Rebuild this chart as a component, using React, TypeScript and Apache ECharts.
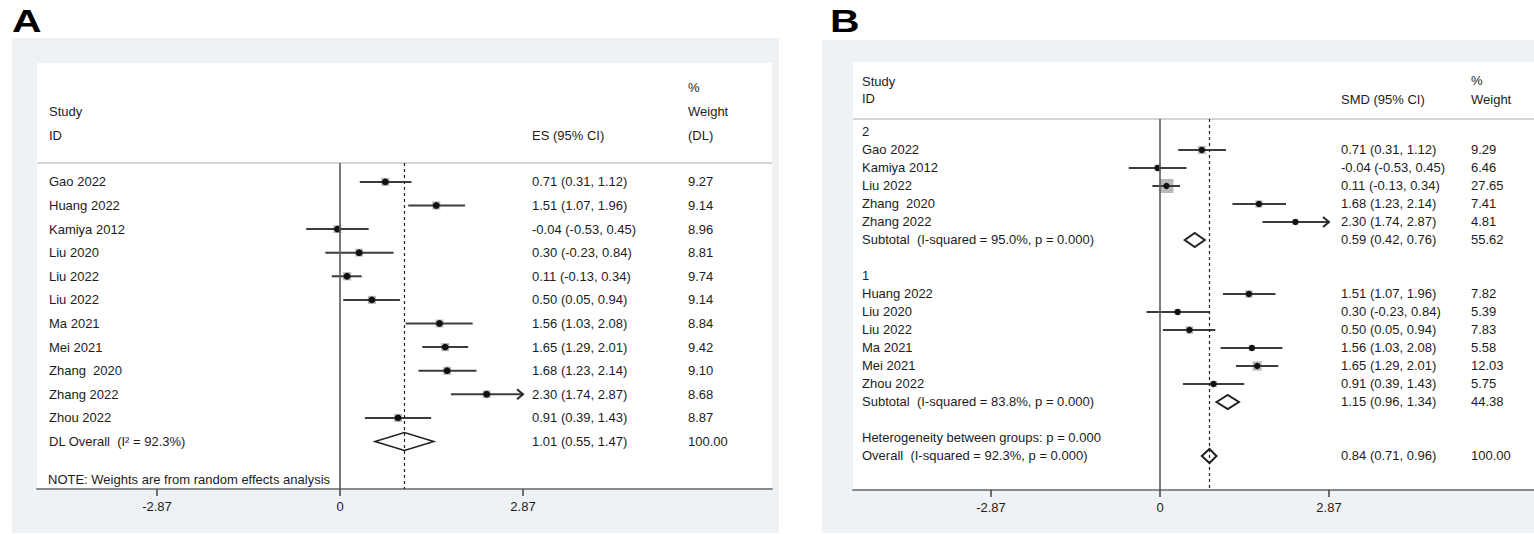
import React, { useEffect, useRef } from "react";
import * as echarts from "echarts";

// ---------- Panel A: pooled random-effects (DL) estimates ----------
const studiesA = [
  "Gao 2022", "Huang 2022", "Kamiya 2012", "Liu 2020", "Liu 2022", "Liu 2022",
  "Ma 2021", "Mei 2021", "Zhang  2020", "Zhang 2022", "Zhou 2022",
];
const esA = [0.71, 1.51, -0.04, 0.3, 0.11, 0.5, 1.56, 1.65, 1.68, 2.3, 0.91];
const loA = [0.31, 1.07, -0.53, -0.23, -0.13, 0.05, 1.03, 1.29, 1.23, 1.74, 0.39];
const hiA = [1.12, 1.96, 0.45, 0.84, 0.34, 0.94, 2.08, 2.01, 2.14, 2.87, 1.43];
const weightA = [9.27, 9.14, 8.96, 8.81, 9.74, 9.14, 8.84, 9.42, 9.1, 8.68, 8.87];
const overallLabelA = "DL Overall  (I\u00B2 = 92.3%)";
const overallA = [1.01, 0.55, 1.47];
const overallWeightA = 100.0;
const noteA = "NOTE: Weights are from random effects analysis";

// ---------- Panel B: subgroup analysis ----------
const group2Label = "2";
const group2Studies = ["Gao 2022", "Kamiya 2012", "Liu 2022", "Zhang  2020", "Zhang 2022"];
const group2Es = [0.71, -0.04, 0.11, 1.68, 2.3];
const group2Lo = [0.31, -0.53, -0.13, 1.23, 1.74];
const group2Hi = [1.12, 0.45, 0.34, 2.14, 2.87];
const group2Weight = [9.29, 6.46, 27.65, 7.41, 4.81];
const subtotal2Label = "Subtotal  (I-squared = 95.0%, p = 0.000)";
const subtotal2 = [0.59, 0.42, 0.76];
const subtotal2Weight = 55.62;

const group1Label = "1";
const group1Studies = ["Huang 2022", "Liu 2020", "Liu 2022", "Ma 2021", "Mei 2021", "Zhou 2022"];
const group1Es = [1.51, 0.3, 0.5, 1.56, 1.65, 0.91];
const group1Lo = [1.07, -0.23, 0.05, 1.03, 1.29, 0.39];
const group1Hi = [1.96, 0.84, 0.94, 2.08, 2.01, 1.43];
const group1Weight = [7.82, 5.39, 7.83, 5.58, 12.03, 5.75];
const subtotal1Label = "Subtotal  (I-squared = 83.8%, p = 0.000)";
const subtotal1 = [1.15, 0.96, 1.34];
const subtotal1Weight = 44.38;

const heterogeneityLabel = "Heterogeneity between groups: p = 0.000";
const overallLabelB = "Overall  (I-squared = 92.3%, p = 0.000)";
const overallB = [0.84, 0.71, 0.96];
const overallWeightB = 100.0;

// Shared axis ticks
const tickValues = [-2.87, 0, 2.87];
const tickLabels = ["-2.87", "0", "2.87"];
const ciLimit = 2.87;

const FONT = '"Liberation Sans", Arial, Helvetica, sans-serif';
const TEXT = "#1c1c1c";
const PANEL_BG = "#eef2f5";

type Row = {
  pos: number;
  label: string;
  kind: "study" | "diamond" | "text";
  es?: number;
  lo?: number;
  hi?: number;
  weight?: number;
};

function studyRows(start: number, names: string[], es: number[], lo: number[], hi: number[], w: number[]): Row[] {
  return names.map((n, i) => ({ pos: start + i, label: n, kind: "study", es: es[i], lo: lo[i], hi: hi[i], weight: w[i] }));
}

const rowsA: Row[] = [
  ...studyRows(1, studiesA, esA, loA, hiA, weightA),
  { pos: 12, label: overallLabelA, kind: "diamond", es: overallA[0], lo: overallA[1], hi: overallA[2], weight: overallWeightA },
];

const rowsB: Row[] = [
  { pos: 0, label: group2Label, kind: "text" },
  ...studyRows(1, group2Studies, group2Es, group2Lo, group2Hi, group2Weight),
  { pos: 6, label: subtotal2Label, kind: "diamond", es: subtotal2[0], lo: subtotal2[1], hi: subtotal2[2], weight: subtotal2Weight },
  { pos: 8, label: group1Label, kind: "text" },
  ...studyRows(9, group1Studies, group1Es, group1Lo, group1Hi, group1Weight),
  { pos: 15, label: subtotal1Label, kind: "diamond", es: subtotal1[0], lo: subtotal1[1], hi: subtotal1[2], weight: subtotal1Weight },
  { pos: 17, label: heterogeneityLabel, kind: "text" },
  { pos: 18, label: overallLabelB, kind: "diamond", es: overallB[0], lo: overallB[1], hi: overallB[2], weight: overallWeightB },
];

const f2 = (v: number) => v.toFixed(2);
const ciText = (es: number, lo: number, hi: number) => `${f2(es)} (${f2(lo)}, ${f2(hi)})`;

function makeRenderer(
  rows: Row[],
  cols: { name: number; es: number; weight: number },
  opts: { boxK: number; dotR: number; diamondH: number; diamondW: number }
) {
  return (params: any, api: any) => {
    const row = rows[params.dataIndex];
    const y = api.coord([0, row.pos])[1];
    const kids: any[] = [];
    const txt = (x: number, s: string) => ({
      type: "text",
      z2: 10,
      style: { x, y, text: s, fill: TEXT, fontSize: 13, fontFamily: FONT, verticalAlign: "middle", align: "left" },
    });
    kids.push(txt(cols.name, row.label));
    if (row.kind !== "text") {
      const es = row.es as number;
      const lo = row.lo as number;
      const hi = row.hi as number;
      const xe = api.coord([es, row.pos])[0];
      const xl = api.coord([lo, row.pos])[0];
      const xh = api.coord([Math.min(hi, ciLimit), row.pos])[0];
      if (row.kind === "study") {
        const side = opts.boxK * Math.sqrt(row.weight as number);
        kids.push({
          type: "rect",
          shape: { x: xe - side / 2, y: y - side / 2, width: side, height: side },
          style: { fill: "#b9b9b9" },
        });
        kids.push({
          type: "line",
          shape: { x1: xl, y1: y, x2: xh, y2: y },
          style: { stroke: "#3c3c3c", lineWidth: 2 },
        });
        if (hi >= ciLimit) {
          kids.push({
            type: "polyline",
            shape: { points: [[xh - 6, y - 5], [xh, y], [xh - 6, y + 5]] },
            style: { stroke: "#2a2a2a", lineWidth: 2, fill: "none" },
          });
        }
        kids.push({ type: "circle", shape: { cx: xe, cy: y, r: opts.dotR }, style: { fill: "#111" } });
      } else {
        const h = opts.diamondH;
        kids.push({
          type: "polygon",
          shape: { points: [[xl, y], [xe, y - h], [xh, y], [xe, y + h]] },
          style: { fill: "#ffffff", stroke: "#222", lineWidth: opts.diamondW },
        });
      }
      kids.push(txt(cols.es, ciText(es, lo, hi)));
      kids.push(txt(cols.weight, f2(row.weight as number)));
    }
    return { type: "group", children: kids };
  };
}

function xAxisFor(gridIndex: number, min: number, max: number) {
  return {
    type: "value",
    gridIndex,
    min,
    max,
    z: 3,
    splitLine: { show: false },
    axisLine: { show: true, onZero: false, lineStyle: { color: "#8a8a8a", width: 2 } },
    axisTick: { show: true, customValues: tickValues, length: 7, lineStyle: { color: "#444", width: 1.5 } },
    axisLabel: {
      customValues: tickValues,
      margin: 11,
      fontSize: 13,
      fontFamily: FONT,
      color: TEXT,
      formatter: (v: number) => {
        let best = 0;
        tickValues.forEach((t, i) => {
          if (Math.abs(t - v) < Math.abs(tickValues[best] - v)) best = i;
        });
        return tickLabels[best];
      },
    },
  };
}

function refLines(overall: number) {
  return {
    symbol: "none",
    silent: true,
    label: { show: false },
    data: [
      { xAxis: 0, lineStyle: { type: "solid", color: "#5a5a5a", width: 1.6 } },
      { xAxis: overall, lineStyle: { type: [3, 3], color: "#222", width: 1.2 } },
    ],
  };
}

function headerText(x: number, y: number, text: string) {
  return {
    type: "text",
    z: 5,
    style: { x, y, text, fill: TEXT, fontSize: 13, fontFamily: FONT, verticalAlign: "middle", align: "left" },
  };
}

export default function App() {
  const ref = useRef<HTMLDivElement>(null);

  useEffect(() => {
    if (!ref.current) return;
    const chart = echarts.init(ref.current, undefined, { renderer: "svg" });

    const option: any = {
      animation: false,
      backgroundColor: "#ffffff",
      grid: [
        { left: 37, top: 163, width: 735, height: 326 },
        { left: 853, top: 119, width: 681, height: 371 },
      ],
      xAxis: [xAxisFor(0, -4.752, 6.775), xAxisFor(1, -5.213, 6.351)],
      yAxis: [
        { type: "value", gridIndex: 0, inverse: true, min: 0.2, max: 14.013, show: false },
        { type: "value", gridIndex: 1, inverse: true, min: -0.722, max: 19.889, show: false },
      ],
      graphic: [
        { type: "rect", z: -10, shape: { x: 12, y: 38, width: 767, height: 495 }, style: { fill: PANEL_BG } },
        { type: "rect", z: -9, shape: { x: 37, y: 63, width: 735, height: 426 }, style: { fill: "#ffffff" } },
        { type: "rect", z: -10, shape: { x: 822, y: 40, width: 712, height: 493 }, style: { fill: PANEL_BG } },
        { type: "rect", z: -9, shape: { x: 853, y: 62, width: 681, height: 428 }, style: { fill: "#ffffff" } },
        { type: "line", z: 1, shape: { x1: 37, y1: 163, x2: 772, y2: 163 }, style: { stroke: "#c6c6c6", lineWidth: 1.5 } },
        { type: "line", z: 1, shape: { x1: 853, y1: 119, x2: 1534, y2: 119 }, style: { stroke: "#c6c6c6", lineWidth: 1.5 } },
        {
          type: "text", z: 5, x: 12, y: 21.5, scaleX: 1.28,
          style: { x: 0, y: 0, text: "A", fill: "#000", fontSize: 32, fontWeight: "bold", fontFamily: FONT, verticalAlign: "middle" },
        },
        {
          type: "text", z: 5, x: 830, y: 21.5, scaleX: 1.28,
          style: { x: 0, y: 0, text: "B", fill: "#000", fontSize: 32, fontWeight: "bold", fontFamily: FONT, verticalAlign: "middle" },
        },
        headerText(49, 111, "Study"),
        headerText(49, 135, "ID"),
        headerText(532, 135, "ES (95% CI)"),
        headerText(688, 87, "%"),
        headerText(688, 111, "Weight"),
        headerText(688, 135, "(DL)"),
        headerText(48, 479, noteA),
        headerText(862, 81, "Study"),
        headerText(862, 98, "ID"),
        headerText(1341, 99, "SMD (95% CI)"),
        headerText(1471, 80, "%"),
        headerText(1471, 99, "Weight"),
      ],
      series: [
        {
          type: "custom",
          xAxisIndex: 0,
          yAxisIndex: 0,
          clip: false,
          silent: true,
          z: 4,
          encode: { x: 0, y: 1 },
          data: rowsA.map((r) => [r.es ?? 0, r.pos]),
          renderItem: makeRenderer(rowsA, { name: 49, es: 532, weight: 688 }, { boxK: 2.66, dotR: 3.4, diamondH: 9, diamondW: 1.6 }),
          markLine: refLines(overallA[0]),
        },
        {
          type: "custom",
          xAxisIndex: 1,
          yAxisIndex: 1,
          clip: false,
          silent: true,
          z: 4,
          encode: { x: 0, y: 1 },
          data: rowsB.map((r) => [r.es ?? 0, r.pos]),
          renderItem: makeRenderer(rowsB, { name: 862, es: 1341, weight: 1471 }, { boxK: 2.66, dotR: 3.1, diamondH: 7, diamondW: 2 }),
          markLine: refLines(overallB[0]),
        },
      ],
    };

    chart.setOption(option);
    return () => chart.dispose();
  }, []);

  return <div ref={ref} style={{ position: "fixed", left: 0, top: 0, width: 1534, height: 534 }} />;
}
